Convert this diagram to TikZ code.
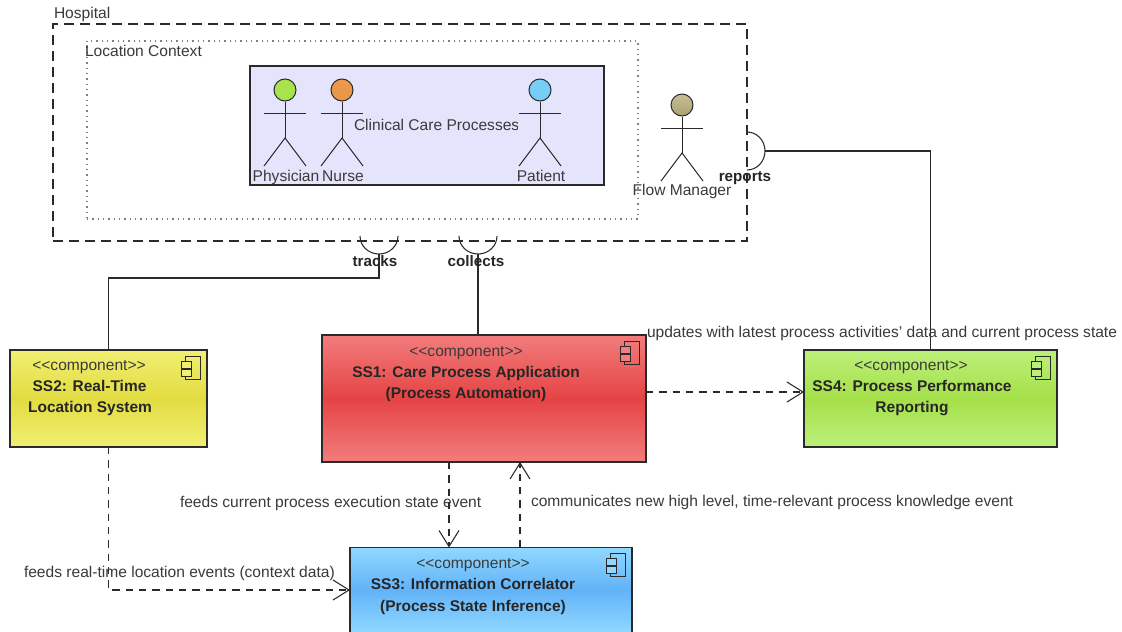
\documentclass[tikz,border=0pt]{standalone}
\usepackage{fontspec}
\setmainfont{Liberation Sans}
\usetikzlibrary{arrows.meta,shadings}
\definecolor{ink}{HTML}{2A2A2A}
\definecolor{txt}{HTML}{3A3A3A}
\definecolor{lav}{HTML}{E4E4FC}
\definecolor{yelE}{HTML}{F1EF72}
\definecolor{yelM}{HTML}{E2DC42}
\definecolor{redE}{HTML}{F37C7C}
\definecolor{redM}{HTML}{E54444}
\definecolor{grnE}{HTML}{BCF07A}
\definecolor{grnM}{HTML}{A6E04A}
\definecolor{bluE}{HTML}{90D8FF}
\definecolor{bluM}{HTML}{62B2F8}
\definecolor{LimeGreenA}{HTML}{A8E24C}
\definecolor{LimeGreenB}{HTML}{A8E24C}
\definecolor{OrangeA}{HTML}{EB9A4C}
\definecolor{OrangeB}{HTML}{E8974A}
\definecolor{SkyA}{HTML}{78D0F8}
\definecolor{SkyB}{HTML}{74CCF6}
\definecolor{KhakiA}{HTML}{C8BE98}
\definecolor{KhakiB}{HTML}{ABA272}
\tikzset{
  x=0.75pt,y=-0.75pt,
  lbl/.style={font=\fontsize{11.68pt}{13pt}\selectfont,text=txt,inner sep=0pt,outer sep=0pt,yshift=-1.5pt},
  lblw/.style={lbl,anchor=mid west},
  lblc/.style={lbl,anchor=mid},
  ttl/.style={font=\fontsize{11.6pt}{13pt}\selectfont\bfseries,text=black!85,inner sep=0pt,anchor=mid,yshift=-1.5pt},
  ifc/.style={font=\fontsize{11.4pt}{13pt}\selectfont\bfseries,text=black!85,inner sep=0pt,anchor=mid,yshift=-1.5pt},
  comp/.style={draw=ink,line width=0.85pt,inner sep=0pt,outer sep=0pt},
  wire/.style={draw=ink,line width=0.8pt},
  dep/.style={draw=ink,line width=0.8pt,dash pattern=on 5.5pt off 4.5pt,-{Straight Barb[length=12pt,width=15pt,line width=0.8pt]}},
  limb/.style={draw=ink,line width=0.75pt},
  yel/.style={comp,top color=yelE,bottom color=yelE,middle color=yelM},
  red/.style={comp,top color=redE,bottom color=redE,middle color=redM},
  grn/.style={comp,top color=grnE,bottom color=grnE,middle color=grnM},
  blu/.style={comp,top color=bluE,bottom color=bluE,middle color=bluM},
}
% component icon: #1 = node name, #2 = colour behind the two tabs
\newcommand{\compicon}[2]{%
  \begin{scope}[shift={(#1.north east)}]
    \draw[draw=ink,line width=0.75pt] (-22,6) rectangle (-7,29);
    \draw[draw=ink,line width=0.75pt,fill=#2] (-26,11) rectangle (-16,18);
    \draw[draw=ink,line width=0.75pt,fill=#2] (-26,19) rectangle (-16,26);
  \end{scope}}
% actor: #1 x, #2 y of head centre, #3 fill top, #4 fill bottom, #5 name
\newcommand{\actorfig}[5]{%
  \begin{scope}[shift={(#1,#2)}]
    \node[circle,draw=ink,line width=0.75pt,minimum size=16.5pt,inner sep=0pt,top color=#3,bottom color=#4] (#5) at (0,0) {};
    \draw[limb] (#5.south) -- (0,48);
    \draw[limb] (-21,23) -- (21,23);
    \draw[limb] (-21,76) -- (0,48) -- (21,76);
  \end{scope}}
\begin{document}
\begin{tikzpicture}
\useasboundingbox[fill=white] (0,0) rectangle (1122,632);

% containers
\node[draw=ink,line width=0.85pt,dash pattern=on 7.5pt off 4.5pt,minimum width=520.5pt,minimum height=162.75pt,inner sep=0pt] (hospital) at (400,132.5) {};
\node[draw=black!50,line width=0.9pt,dash pattern=on 1pt off 3pt,minimum width=413.25pt,minimum height=133.5pt,inner sep=0pt] (context) at (362.5,130) {};
\node[draw=ink,line width=0.85pt,fill=lav,minimum width=265.5pt,minimum height=89.25pt,inner sep=0pt] (clinical) at (427,125.5) {};
\node[lblw] (hlabel) at (54,13) {Hospital};
\node[lblw] (clabel) at (85,51) {Location Context};

% clinical title, cut off at its right end as in the source
\begin{scope}
  \clip (350,110) rectangle (517,140);
  \node[lblw] (cliniclabel) at (354,125) {Clinical Care Processes};
\end{scope}

% actors
\actorfig{285}{90}{LimeGreenA}{LimeGreenB}{physician}
\actorfig{342}{90}{OrangeA}{OrangeB}{nurse}
\actorfig{540}{90}{SkyA}{SkyB}{patient}
\actorfig{682}{105}{KhakiA}{KhakiB}{flow}
\node[lblc] (lphys) at (286,176) {Physician};
\node[lblc] (lnurse) at (343,176) {Nurse};
\node[lblc] (lpat) at (541,176) {Patient};
\node[lblc] (lflow) at (682,190) {Flow Manager};

% components
\node[yel,minimum width=147.75pt,minimum height=72.75pt] (ss2) at (108.5,398.5) {};
\node[red,minimum width=243pt,minimum height=95.25pt] (ss1) at (484,398.5) {};
\node[grn,minimum width=189.75pt,minimum height=72.75pt] (ss4) at (930.5,398.5) {};
\node[blu,minimum width=211.5pt,minimum height=63.75pt] (ss3) at (491,590) {};
\compicon{ss2}{yelE}\compicon{ss1}{redE}\compicon{ss4}{grnE}\compicon{ss3}{bluE}

\node[lblc] (t2a) at (89,365) {<{}<component>{}>};
\node[ttl] (t2b) at (89.5,386) {SS2: Real-Time};
\node[ttl] (t2c) at (90,407) {Location System};
\node[lblc] (t1a) at (466,351) {<{}<component>{}>};
\node[ttl] (t1b) at (466,372) {SS1: Care Process Application};
\node[ttl] (t1c) at (466,393) {(Process Automation)};
\node[lblc] (t4a) at (911,365) {<{}<component>{}>};
\node[ttl] (t4b) at (912,386) {SS4: Process Performance};
\node[ttl] (t4c) at (912,407) {Reporting};
\node[lblc] (t3a) at (473,563) {<{}<component>{}>};
\node[ttl] (t3b) at (473,584) {SS3: Information Correlator};
\node[ttl] (t3c) at (473,606) {(Process State Inference)};

% provided/required interfaces
\coordinate (trackc) at (379,254);
\coordinate (trackbend) at (379,278);
\coordinate (collectc) at (478,254);
\coordinate (reportc) at (765,151);
\draw[wire] (360,236) arc[start angle=180,end angle=0,x radius=19,y radius=18];
\draw[wire] (459,236) arc[start angle=180,end angle=0,x radius=19,y radius=18];
\draw[wire] (747,132) arc[start angle=-90,end angle=90,x radius=18,y radius=19];
\draw[wire] (ss2.north) |- (trackbend) -- (trackc);
\draw[wire] (collectc) -- (collectc |- ss1.north);
\draw[wire] (ss4.north) |- (reportc);
\node[ifc] (ltracks) at (375,261) {tracks};
\node[ifc] (lcollects) at (476,261) {collects};
\node[ifc] (lreports) at (745,176) {reports};

% dependencies
\draw[dep] ([yshift=4.875pt]ss1.east) -- ([yshift=4.875pt]ss4.west);
\draw[dep] ([xshift=-26.25pt]ss1.south) -- ([xshift=-31.5pt]ss3.north);
\draw[dep] ([xshift=21.75pt]ss3.north) -- ([xshift=27pt]ss1.south);
\draw[dep] (ss2.south) |- (ss3.west);

\node[lblw] (e1) at (647,332) {updates with latest process activities' data and current process state};
\node[lblw] (e2) at (180,502) {feeds current process execution state event};
\node[lblw] (e3) at (531,501) {communicates new high level, time-relevant process knowledge event};
\node[lblw] (e4) at (24,572) {feeds real-time location events (context data)};
\end{tikzpicture}
\end{document}
